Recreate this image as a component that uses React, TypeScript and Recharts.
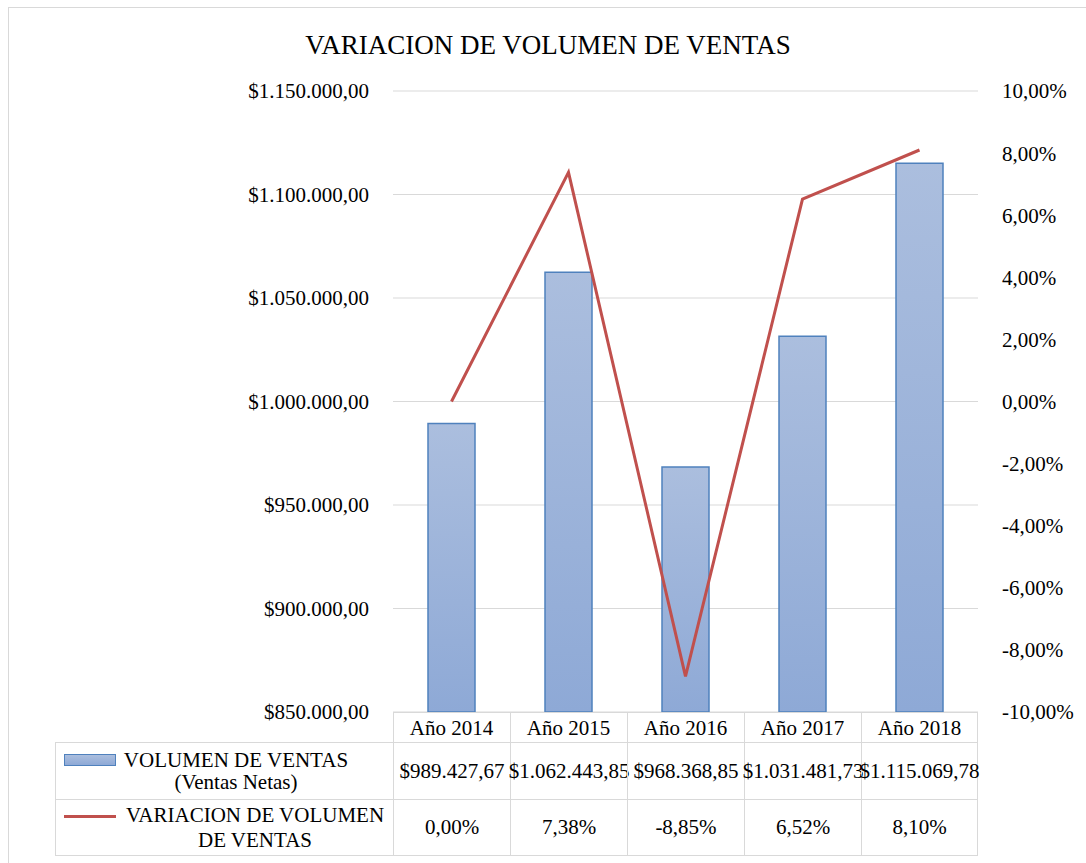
import { ComposedChart, Bar, Line, XAxis, YAxis, CartesianGrid } from 'recharts'

const years = ['Año 2014', 'Año 2015', 'Año 2016', 'Año 2017', 'Año 2018']
const ventas = [989427.67, 1062443.85, 968368.85, 1031481.73, 1115069.78]
const variacion = [0, 7.38, -8.85, 6.52, 8.1]
const ventasTicks = [850000, 900000, 950000, 1000000, 1050000, 1100000, 1150000]
const variacionTicks = [-10, -8, -6, -4, -2, 0, 2, 4, 6, 8, 10]

const title = 'VARIACION DE VOLUMEN DE VENTAS'
const ventasLabel = ['VOLUMEN DE VENTAS', '(Ventas Netas)']
const variacionLabel = ['VARIACION DE VOLUMEN', 'DE VENTAS']

const FONT = '"Liberation Serif", "Times New Roman", serif'
const GRID = '#d9d9d9'
const BAR_LINE = '#4f81bd'
const RED = '#c0504d'

const money = (v: number) => {
  const [int, dec] = v.toFixed(2).split('.')
  return '$' + int.replace(/\B(?=(\d{3})+(?!\d))/g, '.') + ',' + dec
}
const pct = (v: number) => v.toFixed(2).replace('.', ',') + '%'

const data = years.map((year, i) => ({
  year,
  ventas: ventas[i],
  variacion: variacion[i],
}))

const border = `1px solid ${GRID}`

export default function App() {
  const cells: JSX.Element[] = []
  // header row: only the year columns have borders, labels come from the XAxis
  cells.push(<div key="h0" />)
  years.forEach((y, i) => {
    cells.push(
      <div
        key={`h${i}`}
        style={{ borderTop: border, borderLeft: border, borderRight: i === years.length - 1 ? border : undefined }}
      />
    )
  })

  const rows = [
    { label: ventasLabel, values: ventas.map(money), lh: 22, textW: 234 },
    { label: variacionLabel, values: variacion.map(pct), lh: 25, textW: 272 },
  ]
  rows.forEach((row, r) => {
    const last = r === rows.length - 1
    cells.push(
      <div
        key={`l${r}`}
        style={{
          position: 'relative',
          borderTop: border,
          borderLeft: border,
          borderBottom: last ? border : undefined,
        }}
      >
        {r === 0 ? (
          <div
            style={{
              position: 'absolute',
              left: 8,
              top: 11,
              width: 50,
              height: 10,
              border: `1px solid ${BAR_LINE}`,
              background: 'linear-gradient(#abbede, #8ea9d6)',
            }}
          />
        ) : (
          <div style={{ position: 'absolute', left: 8, top: 15, width: 52, height: 3, background: RED }} />
        )}
        <div
          style={{
            position: 'absolute',
            left: 63,
            top: 0,
            bottom: 0,
            width: row.textW,
            display: 'flex',
            flexDirection: 'column',
            justifyContent: 'center',
            alignItems: 'center',
            lineHeight: `${row.lh}px`,
          }}
        >
          {row.label.map((t) => (
            <div key={t} style={{ whiteSpace: 'nowrap' }}>
              {t}
            </div>
          ))}
        </div>
      </div>
    )
    row.values.forEach((v, i) => {
      cells.push(
        <div
          key={`v${r}-${i}`}
          style={{
            borderTop: border,
            borderLeft: border,
            borderRight: i === row.values.length - 1 ? border : undefined,
            borderBottom: last ? border : undefined,
            display: 'flex',
            alignItems: 'center',
            justifyContent: 'center',
            whiteSpace: 'nowrap',
          }}
        >
          {v}
        </div>
      )
    })
  })

  return (
    <div
      style={{
        position: 'absolute',
        left: 0,
        top: 0,
        width: 1086,
        height: 863,
        overflow: 'hidden',
        background: '#fff',
        fontFamily: FONT,
        color: '#000',
      }}
    >
      <div
        style={{
          position: 'absolute',
          left: 8,
          top: 7,
          width: 1200,
          height: 1000,
          border,
        }}
      />
      <div
        style={{
          position: 'absolute',
          left: 0,
          top: 32,
          width: 1096,
          textAlign: 'center',
          fontSize: 27,
          lineHeight: '27px',
        }}
      >
        {title}
      </div>

      <div style={{ position: 'absolute', left: 0, top: 0 }}>
        <ComposedChart width={1086} height={863} data={data} margin={{ top: 91, right: 0, bottom: 120, left: 0 }}>
          <defs>
            <linearGradient id="barFill" x1="0" y1="0" x2="0" y2="1">
              <stop offset="0%" stopColor="#abbede" />
              <stop offset="100%" stopColor="#8ea9d6" />
            </linearGradient>
          </defs>
          <CartesianGrid vertical={false} stroke={GRID} yAxisId="left" />
          <XAxis
            dataKey="year"
            height={31}
            axisLine={false}
            tickLine={false}
            tickMargin={2}
            tick={{ fontSize: 21, fill: '#000' }}
          />
          <YAxis
            yAxisId="left"
            width={393}
            domain={[850000, 1150000]}
            ticks={ventasTicks}
            tickFormatter={money}
            axisLine={false}
            tickLine={false}
            tickMargin={18}
            tick={{ fontSize: 21, fill: '#000' }}
          />
          <YAxis
            yAxisId="right"
            orientation="right"
            width={108}
            domain={[-10, 10]}
            ticks={variacionTicks}
            tickFormatter={pct}
            axisLine={false}
            tickLine={false}
            tickMargin={18}
            tick={{ fontSize: 21, fill: '#000', textAnchor: 'start' }}
          />
          <Bar
            yAxisId="left"
            dataKey="ventas"
            barSize={47}
            fill="url(#barFill)"
            stroke={BAR_LINE}
            strokeWidth={1.5}
            isAnimationActive={false}
          />
          <Line
            yAxisId="right"
            dataKey="variacion"
            type="linear"
            stroke={RED}
            strokeWidth={3}
            dot={false}
            activeDot={false}
            isAnimationActive={false}
          />
        </ComposedChart>
      </div>

      <div
        style={{
          position: 'absolute',
          left: 55,
          top: 712,
          display: 'grid',
          gridTemplateColumns: '338px repeat(5, 117px)',
          gridTemplateRows: '30px 57px 57px',
          fontSize: 21,
          boxSizing: 'border-box',
        }}
      >
        {cells}
      </div>
    </div>
  )
}
